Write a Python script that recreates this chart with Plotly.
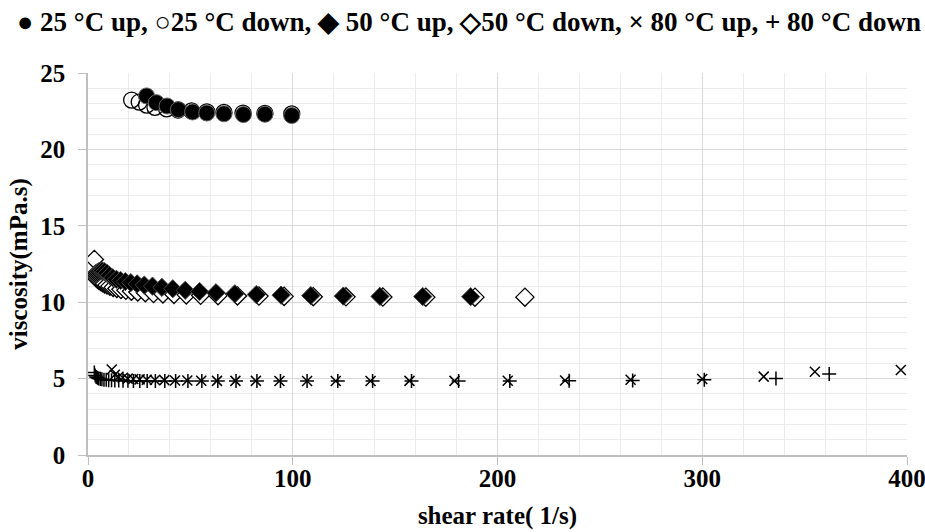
import plotly.graph_objects as go

# 25 °C
x25_up = [28.6, 33.4, 38.6, 44.1, 51.1, 58.0, 66.4, 75.9, 86.4, 99.5]
y25_up = [23.5, 23.06, 22.84, 22.6, 22.45, 22.38, 22.33, 22.28, 22.3, 22.22]
x25_down = [21.3, 25.0, 28.6, 32.7, 38.4, 44.0, 50.6, 58.0, 66.4, 75.7, 86.4, 99.5]
y25_down = [23.23, 23.1, 22.9, 22.75, 22.65, 22.58, 22.52, 22.46, 22.42, 22.38, 22.36, 22.32]

# 50 °C
x50_up = [3.1, 3.5, 4.0, 4.6, 5.3, 6.1, 7.0, 8.0, 9.2, 10.5, 12.1, 13.9, 15.9, 18.2, 20.9,
          24.0, 27.5, 31.5, 36.1, 41.4, 47.5, 54.5, 62.5, 71.7, 82.2, 94.3, 108.8, 124.7,
          142.6, 163.5, 186.9]
y50_up = [11.8, 11.85, 11.9, 11.95, 12.0, 12.05, 12.05, 12.0, 11.9, 11.75, 11.6, 11.5, 11.42,
          11.35, 11.28, 11.2, 11.12, 11.05, 10.97, 10.88, 10.78, 10.7, 10.62, 10.55, 10.5,
          10.46, 10.43, 10.4, 10.38, 10.37, 10.36]
x50_down = [3.1, 3.6, 4.1, 4.7, 5.4, 6.2, 7.1, 8.1, 9.3, 10.7, 12.3, 14.1, 16.1, 18.5, 21.2,
            24.3, 28.0, 32.0, 36.6, 42.0, 48.0, 55.0, 63.5, 73.0, 83.5, 95.8, 110.0, 126.0,
            144.0, 165.0, 189.0, 213.4]
y50_down = [12.8, 11.7, 11.6, 11.5, 11.42, 11.35, 11.28, 11.2, 11.12, 11.05, 10.97, 10.9,
            10.84, 10.78, 10.72, 10.67, 10.62, 10.57, 10.54, 10.51, 10.48, 10.45, 10.43,
            10.41, 10.4, 10.38, 10.36, 10.35, 10.34, 10.33, 10.33, 10.33]

# 80 °C
x80_up = [11.6, 13.1, 14.9, 17.0, 19.4, 22.1, 25.2, 28.7, 32.7, 37.3, 42.5, 48.5, 55.3, 63.0,
          72.0, 82.0, 93.5, 107.0, 121.0, 138.0, 157.0, 179.0, 205.0, 233.0, 265.0, 300.0,
          330.0, 355.0, 397.0]
y80_up = [5.6, 5.25, 5.12, 5.05, 5.0, 4.97, 4.95, 4.93, 4.91, 4.9, 4.88, 4.87, 4.86, 4.85,
          4.85, 4.85, 4.84, 4.84, 4.84, 4.84, 4.85, 4.85, 4.86, 4.87, 4.92, 4.97, 5.13,
          5.45, 5.56]
x80_down = [3.1, 3.5, 4.0, 4.6, 5.2, 6.0, 6.8, 7.8, 8.9, 10.1, 11.5, 13.1, 15.0, 17.1, 19.5,
            22.2, 25.3, 28.9, 32.9, 37.5, 42.8, 48.8, 55.6, 63.4, 72.3, 82.5, 94.0, 107.0,
            122.0, 139.0, 158.0, 181.0, 206.0, 235.0, 266.0, 301.0, 336.0, 362.0]
y80_down = [5.4, 5.2, 5.1, 5.05, 5.0, 4.97, 4.95, 4.93, 4.92, 4.9, 4.89, 4.88, 4.87, 4.86,
            4.86, 4.85, 4.85, 4.85, 4.84, 4.84, 4.84, 4.84, 4.84, 4.84, 4.84, 4.84, 4.84,
            4.84, 4.84, 4.84, 4.84, 4.84, 4.85, 4.86, 4.88, 4.93, 5.0, 5.3]

title_text = ("● 25 °C up, ○25 °C down, ◆ 50 °C up, ◇50 °C down, × 80 °C up, + 80 °C down")

FONT = "Liberation Serif, Times New Roman, serif"
FS = 25
fig = go.Figure()

fig.add_trace(go.Scatter(x=x25_down, y=y25_down, mode="markers", name="25 °C down",
                         marker=dict(symbol="circle-open", size=16, color="black",
                                     line=dict(color="black", width=1.3))))
fig.add_trace(go.Scatter(x=x25_up, y=y25_up, mode="markers", name="25 °C up",
                         marker=dict(symbol="circle", size=16, color="black",
                                     line=dict(color="#666", width=1))))
fig.add_trace(go.Scatter(x=x50_down, y=y50_down, mode="markers", name="50 °C down",
                         marker=dict(symbol="diamond", size=14, color="white",
                                     line=dict(color="black", width=1.3))))
fig.add_trace(go.Scatter(x=x50_up, y=y50_up, mode="markers", name="50 °C up",
                         marker=dict(symbol="diamond", size=14, color="black",
                                     line=dict(color="#444", width=1))))
fig.add_trace(go.Scatter(x=x80_up, y=y80_up, mode="markers", name="80 °C up",
                         marker=dict(symbol="x-thin", size=10,
                                     line=dict(color="black", width=1.5))))
fig.add_trace(go.Scatter(x=x80_down, y=y80_down, mode="markers", name="80 °C down",
                         marker=dict(symbol="cross-thin", size=10,
                                     line=dict(color="black", width=1.5))))

fig.update_layout(
    width=925, height=532,
    margin=dict(l=88, r=18, t=73, b=77),
    paper_bgcolor="white", plot_bgcolor="white",
    showlegend=False,
    font=dict(family=FONT, color="black", size=FS),
    title=dict(text="<b>" + title_text + "</b>", x=469 / 925, xanchor="center",
               y=1 - 22 / 532, yanchor="middle", automargin=False,
               font=dict(family=FONT, size=27, color="black")),
    xaxis=dict(range=[0, 400], dtick=100, tick0=0, automargin=False,
               showgrid=True, gridcolor="#d9d9d9", gridwidth=1,
               minor=dict(dtick=20, showgrid=True, gridcolor="#ececec", gridwidth=1),
               showline=True, linecolor="#bfbfbf", linewidth=1.5,
               ticks="outside", ticklen=8, tickcolor="#bfbfbf",
               zeroline=False, ticklabelstandoff=-8, ticklabeloverflow="allow",
               tickfont=dict(family=FONT, size=FS, color="black"),
               title=dict(text="<b>shear rate( 1/s)</b>", standoff=16,
                          font=dict(family=FONT, size=FS, color="black"))),
    yaxis=dict(range=[0, 25], dtick=5, tick0=0, automargin=False,
               showgrid=True, gridcolor="#d9d9d9", gridwidth=1,
               minor=dict(dtick=1, showgrid=True, gridcolor="#ececec", gridwidth=1),
               showline=True, linecolor="#bfbfbf", linewidth=1.5,
               ticks="outside", ticklen=8, tickcolor="#bfbfbf",
               zeroline=False, ticklabelstandoff=8,
               tickfont=dict(family=FONT, size=FS, color="black"),
               title=dict(text="<b>viscosity(mPa.s)</b>", standoff=6,
                          font=dict(family=FONT, size=FS, color="black"))),
)
fig.update_xaxes(tickprefix="<b>", ticksuffix="</b>")
fig.update_yaxes(tickprefix="<b>", ticksuffix="</b>")

fig.write_html("out.html")
